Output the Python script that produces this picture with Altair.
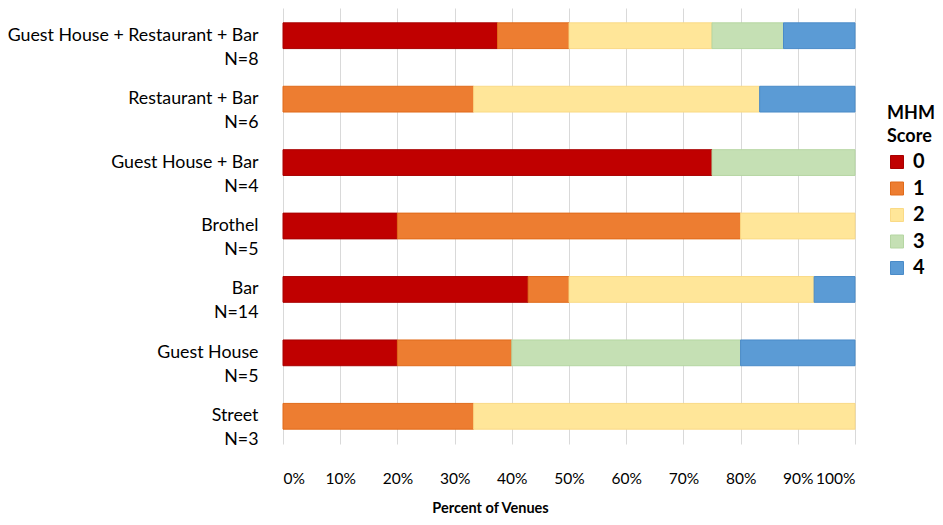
import altair as alt
import pandas as pd

categories = [
    "Guest House + Restaurant + Bar|N=8",
    "Restaurant + Bar|N=6",
    "Guest House + Bar|N=4",
    "Brothel|N=5",
    "Bar|N=14",
    "Guest House|N=5",
    "Street|N=3",
]
scores = ["0", "1", "2", "3", "4"]
# number of venues per category for each MHM score
score0 = [3, 0, 3, 1, 6, 1, 0]
score1 = [1, 2, 0, 3, 1, 1, 1]
score2 = [2, 3, 0, 1, 6, 0, 2]
score3 = [1, 0, 1, 0, 0, 2, 0]
score4 = [1, 1, 0, 0, 1, 1, 0]

fill_colors = ["#C00000", "#ED7D31", "#FFE699", "#C5E0B4", "#5B9BD5"]
stroke_colors = ["#A80000", "#E06B1A", "#FADA86", "#B5D6A2", "#4A8BC8"]

rows = []
for s, vals in zip(scores, [score0, score1, score2, score3, score4]):
    for c, v in zip(categories, vals):
        if v > 0:
            rows.append({"venue": c, "score": s, "count": v, "ord": int(s)})
df = pd.DataFrame(rows)

FONT = "Lato"

chart = alt.Chart(df).mark_bar(strokeWidth=1).encode(
    x=alt.X(
        "count:Q",
        stack="normalize",
        scale=alt.Scale(domain=[0, 1], nice=False),
        axis=alt.Axis(
            title="Percent of Venues",
            format=".0%",
            values=[i / 10 for i in range(11)],
            labelOverlap=False,
            grid=True,
            gridColor="#D9D9D9",
            gridWidth=1,
            domain=False,
            ticks=False,
            labelFont=FONT,
            labelFontSize=15.5,
            labelColor="#000000",
            labelPadding=27,
            titleFont=FONT,
            titleFontSize=14.5,
            titleFontWeight="bold",
            titleColor="#000000",
            titlePadding=15,
            titleX=207,
            titleAlign="center",
        ),
    ),
    y=alt.Y(
        "venue:N",
        sort=categories,
        scale=alt.Scale(paddingInner=0.594, paddingOuter=0.234),
        axis=alt.Axis(
            title=None,
            domain=False,
            ticks=False,
            grid=False,
            labelExpr="split(datum.label, '|')",
            labelFont=FONT,
            labelFontSize=17.8,
            labelColor="#000000",
            labelLineHeight=24,
            labelPadding=25,
            labelBaseline="middle",
            labelLimit=400,
            labelAlign="right",
        ),
    ),
    color=alt.Color(
        "score:N",
        scale=alt.Scale(domain=scores, range=fill_colors),
        legend=alt.Legend(
            title=["MHM", "Score"],
            orient="none",
            legendX=604,
            legendY=97,
            padding=0,
            symbolType="square",
            symbolSize=169,
            symbolStrokeWidth=1,
            titleFont=FONT,
            titleFontSize=18,
            titleFontWeight="bold",
            titleColor="#000000",
            titleLineHeight=23,
            titlePadding=6,
            labelFont=FONT,
            labelFontSize=20,
            labelFontWeight="bold",
            labelColor="#000000",
            labelOffset=6,
            rowPadding=6.5,
        ),
    ),
    stroke=alt.Stroke(
        "score:N",
        scale=alt.Scale(domain=scores, range=stroke_colors),
        legend=None,
    ),
    order=alt.Order("ord:Q", sort="ascending"),
).properties(
    width=572,
    height=436,
    autosize=alt.AutoSizeParams(type="none"),
    padding={"left": 275, "top": 0, "right": 80, "bottom": 73},
).configure_view(stroke=None)

chart.save("out.html", embed_options={"renderer": "svg", "actions": False})
